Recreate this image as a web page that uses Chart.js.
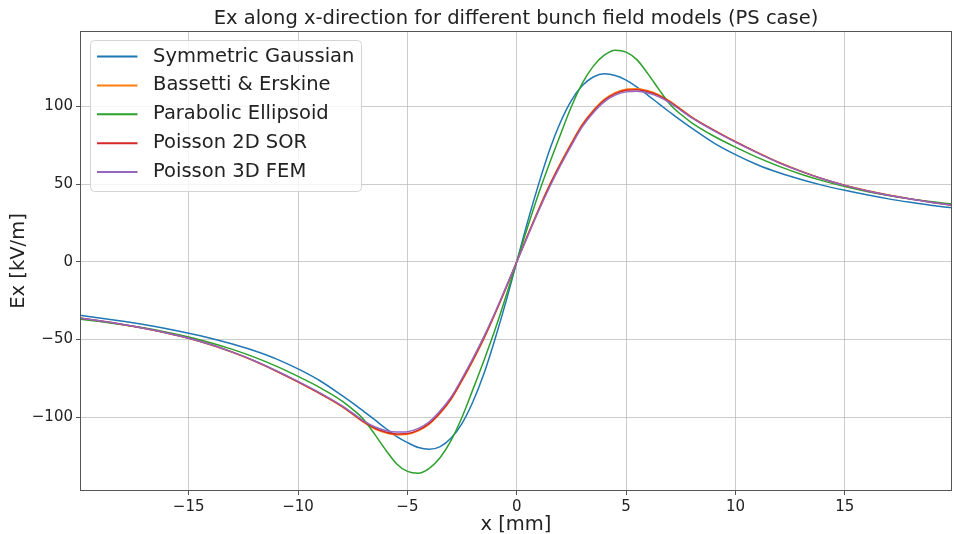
<!DOCTYPE html>
<html>
<head>
<meta charset="utf-8">
<title>Ex along x-direction (PS case)</title>
<script src="https://cdn.jsdelivr.net/npm/chart.js@4/dist/chart.umd.min.js"></script>
<style>
  html, body { margin: 0; padding: 0; background: #fff; }
  #wrap { width: 954px; height: 534px; }
</style>
</head>
<body>
<div id="wrap"><canvas id="chart" width="954" height="534"></canvas></div>
<script>
(() => {
  // ============================================================
  // Data
  // ============================================================
  const TITLE = "Ex along x-direction for different bunch field models (PS case)";
  const X_LABEL = "x [mm]";
  const Y_LABEL = "Ex [kV/m]";

  const SERIES_NAMES = ["Symmetric Gaussian", "Bassetti & Erskine", "Parabolic Ellipsoid", "Poisson 2D SOR", "Poisson 3D FEM"];
  const X_TICKS = [-15, -10, -5, 0, 5, 10, 15];
  const Y_TICKS = [-100, -50, 0, 50, 100];

  const xMm = [-20,-19,-18,-17,-16,-15,-14,-13,-12,-11,-10,-9,-8,-7.5,-7,-6.5,-6,-5.5,-5,-4.5,-4,-3.5,-3,-2.5,-2,-1.5,-1,-0.5,0,
               0.5,1,1.5,2,2.5,3,3.5,4,4.5,5,5.5,6,6.5,7,7.5,8,9,10,11,12,13,14,15,16,17,18,19,20];

  const symGauss = [-34.4,-36.3,-38.3,-40.5,-43.1,-46,-49.2,-53,-57.3,-62.5,-69,-76.6,-86,
                    -91,-96.3,-101.7,-107.2,-112.4,-116.4,-119.6,-120.7,-119,-113.5,-104,-90,-72,-50,-26,0,
                    26,50,72,90,104,113.5,119,121,120,117,112.5,107.2,101.7,96.3,91,
                    86,76.6,69,62.5,57.3,53,49.2,46,43.1,40.5,38.3,36.3,34.6];

  const bassetti = [-36.3,-38.3,-40.5,-43,-45.9,-49.3,-53.4,-58.3,-63.9,-70.4,-77.4,-84.9,-93.2,
                    -98.3,-103.4,-107.5,-110.1,-111.4,-111.1,-108.9,-104.6,-97.6,-88.6,-76.6,-63.6,-49.5,-33.8,-17.2,0,
                    17.2,33.8,49.5,63.6,76.6,88.6,97.6,104.6,108.9,111.1,111.4,110.1,107.5,103.4,98.3,
                    93.2,84.9,77.4,70.4,63.9,58.3,53.4,49.3,45.9,43,40.5,38.3,36.3];

  const parabolic = [-37,-38.6,-40.5,-42.7,-45.3,-48.4,-52.1,-56.4,-61.4,-67.2,-73.8,-81,-89.5,
                     -95,-101.5,-111,-121,-130,-135,-136.2,-133,-126,-115,-100,-82,-63.5,-44,-22.5,0,
                     22.5,44,63.5,82,100,115,126,133,136.2,135,130,121,111,101.5,95,
                     89.5,81,73.8,67.2,61.4,56.4,52.1,48.4,45.3,42.7,40.5,38.6,37];

  const sor2d = [-36.2,-38.2,-40.4,-42.9,-45.8,-49.2,-53.3,-58.2,-63.8,-70.3,-77.3,-84.8,-93,
                 -98,-103,-107,-109.6,-110.9,-110.6,-108.4,-104.1,-97.1,-88.1,-76.1,-63.1,-49.1,-33.5,-17,0,
                 17,33.5,49,63,76,88,97,104,108.3,110.5,110.8,109.5,107,103,98,
                 93,84.8,77.3,70.3,63.8,58.2,53.3,49.2,45.8,42.9,40.4,38.2,36.2];

  const fem3d = [-36.2,-38.2,-40.4,-42.9,-45.8,-49.2,-53.3,-58.2,-63.7,-70.1,-77,-84.4,-92.6,
                 -97.5,-102.4,-106.2,-108.6,-109.6,-109.4,-107.3,-103,-96,-87,-75,-62,-48,-32.8,-16.5,0,
                 16.5,32.8,48,62,75,87,96,103,107.3,109.4,109.8,108.7,106.2,102.4,97.5,
                 92.6,84.4,77,70.1,63.7,58.2,53.3,49.2,45.8,42.9,40.4,38.2,36.2];

  // ============================================================
  // Style
  // ============================================================
  const FONT = "'DejaVu Sans', 'Liberation Sans', sans-serif";
  const TEXT = "#222";
  const COLORS = ["#1f77b4", "#ff7f0e", "#2ca02c", "#d62728", "#9467bd"];
  const fmtTick = (v) => v < 0 ? "\u2212" + Math.abs(v) : String(v);

  const seriesList = [symGauss, bassetti, parabolic, sor2d, fem3d];

  const datasets = seriesList.map((vals, i) => ({
    label: SERIES_NAMES[i],
    data: xMm.map((x, j) => ({ x, y: vals[j] })),
    borderColor: COLORS[i],
    backgroundColor: COLORS[i],
    borderWidth: 1.5,
    pointRadius: 0,
    fill: false,
    cubicInterpolationMode: "monotone",
    order: seriesList.length - i   // matplotlib order: last one on top
  }));

  // spines + matplotlib-like legend inside the axes
  const frameAndLegend = {
    id: "frameAndLegend",
    afterDatasetsDraw(chart) {
      const { ctx, chartArea: a } = chart;
      ctx.save();
      ctx.strokeStyle = "#555";
      ctx.lineWidth = 1;
      ctx.strokeRect(a.left + 0.5, a.top + 0.5, a.right - a.left - 1, a.bottom - a.top - 1);

      const bx = a.left + 10.5, by = a.top + 9.5, bw = 271, bh = 151;
      ctx.beginPath();
      ctx.roundRect(bx, by, bw, bh, 4);
      ctx.fillStyle = "rgba(255,255,255,0.8)";
      ctx.fill();
      ctx.strokeStyle = "#d4d4d4";
      ctx.stroke();

      ctx.font = `19.5px ${FONT}`;
      ctx.textBaseline = "middle";
      ctx.textAlign = "left";
      chart.data.datasets.forEach((ds, i) => {
        const y = by + 16 + i * 28.9;
        ctx.strokeStyle = ds.borderColor;
        ctx.lineWidth = 2;
        ctx.beginPath();
        ctx.moveTo(bx + 6.5, y);
        ctx.lineTo(bx + 47, y);
        ctx.stroke();
        ctx.fillStyle = TEXT;
        ctx.fillText(ds.label, bx + 62.5, y);
      });
      ctx.restore();
    }
  };

  new Chart(document.getElementById("chart"), {
    type: "line",
    data: { datasets },
    plugins: [frameAndLegend],
    options: {
      responsive: false,
      animation: false,
      events: [],
      layout: { padding: { top: 0, right: 2, bottom: 0, left: 0 } },
      plugins: {
        legend: { display: false },
        tooltip: { enabled: false },
        title: {
          display: true,
          text: TITLE,
          fullSize: false,
          color: TEXT,
          font: { family: FONT, size: 19.5, weight: "normal" },
          padding: { top: 7.6, bottom: 0 }
        }
      },
      scales: {
        x: {
          type: "linear",
          min: -19.97,
          max: 19.9,
          afterFit: (s) => { s.height = 43; },
          afterBuildTicks: (s) => { s.ticks = X_TICKS.map(v => ({ value: v })); },
          border: { display: false },
          grid: { color: "rgba(176,176,176,0.65)", lineWidth: 1, tickLength: 4, tickColor: "#555" },
          ticks: { color: TEXT, font: { family: FONT, size: 15 }, padding: 3, maxRotation: 0, callback: fmtTick },
          title: { display: true, text: X_LABEL, color: TEXT, font: { family: FONT, size: 19.5 }, padding: { top: 0, bottom: -3 } }
        },
        y: {
          type: "linear",
          min: -147.6,
          max: 148.6,
          afterFit: (s) => { s.width = 80; },
          afterBuildTicks: (s) => { s.ticks = Y_TICKS.map(v => ({ value: v })); },
          border: { display: false },
          grid: { color: "rgba(176,176,176,0.65)", lineWidth: 1, tickLength: 4, tickColor: "#555" },
          ticks: { color: TEXT, font: { family: FONT, size: 15 }, padding: 3, callback: fmtTick },
          title: { display: true, text: Y_LABEL, color: TEXT, font: { family: FONT, size: 19.5 }, padding: { top: 7, bottom: 0 } }
        }
      }
    }
  });
})();
</script>
</body>
</html>
